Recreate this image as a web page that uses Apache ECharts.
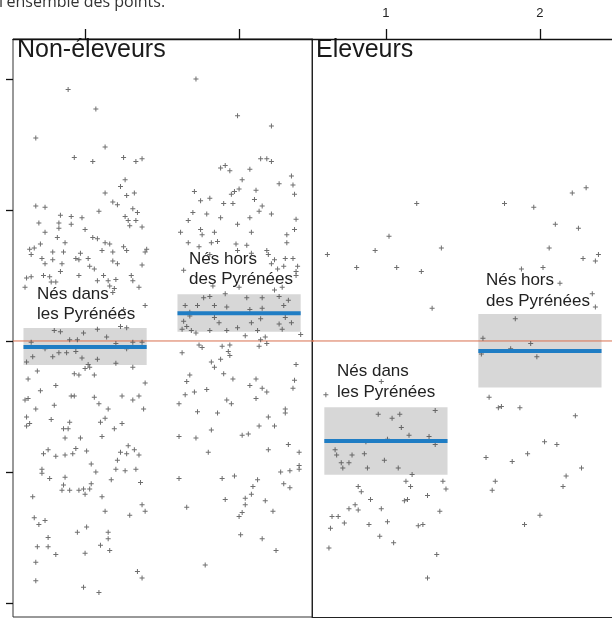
<!DOCTYPE html>
<html><head><meta charset="utf-8">
<script src="https://cdn.jsdelivr.net/npm/echarts@6/dist/echarts.min.js"></script>
<style>html,body{margin:0;padding:0;background:#fff;overflow:hidden}#c{width:612px;height:619px}</style>
</head><body><div id="c"></div>
<script>
// ---------- data ----------
const caption = "l'ensemble des points.";
const panelTitles = ['Non-éleveurs', 'Eleveurs'];
const groupPositions = [1, 2];
const topTickLabels = ['1', '2'];
const yTicks = [-2, -1, 0, 1, 2];
const groupLabelsNon = [['Nés dans', 'les Pyrénées'], ['Nés hors', 'des Pyrénées']];
const groupLabelsEl = [['Nés dans', 'les Pyrénées'], ['Nés hors', 'des Pyrénées']];

const nonMeans = [-0.046, 0.211];
const nonCiLow = [-0.183, 0.071];
const nonCiHigh = [0.099, 0.356];
const elMeans = [-0.763, -0.076];
const elCiLow = [-1.022, -0.356];
const elCiHigh = [-0.505, 0.206];

// Non-éleveurs, nés dans les Pyrénées
const nonInPts = [[0.89,1.92],[1.07,1.77],[0.68,1.55],[1.13,1.48],[0.93,1.40],[1.05,1.37],[1.25,1.40],[1.33,1.37],[1.37,1.39],[1.26,1.23],[1.23,1.18],[1.13,1.13],[1.27,1.11],[1.32,1.13],[1.18,1.06],[1.21,1.04],[0.68,1.03],[0.74,1.02],[1.09,0.99],[1.31,1.01],[1.34,0.98],[0.84,0.96],[0.91,0.95],[0.98,0.94],[1.26,0.95],[1.28,0.92],[1.33,0.92],[0.70,0.90],[0.83,0.90],[0.91,0.89],[1.29,0.88],[1.37,0.87],[1.00,0.85],[0.83,0.86],[0.74,0.83],[1.05,0.79],[1.08,0.78],[0.82,0.79],[0.71,0.74],[0.87,0.75],[1.13,0.75],[1.16,0.74],[1.25,0.72],[0.64,0.70],[0.67,0.71],[0.79,0.68],[0.86,0.68],[0.97,0.67],[1.11,0.69],[1.18,0.68],[1.27,0.69],[1.39,0.68],[1.40,0.70],[0.65,0.66],[0.72,0.63],[0.79,0.62],[0.94,0.63],[0.96,0.62],[1.02,0.63],[1.18,0.61],[1.21,0.59],[0.74,0.59],[0.85,0.59],[1.03,0.57],[1.06,0.55],[1.37,0.58],[0.73,0.50],[0.84,0.53],[0.62,0.48],[0.65,0.49],[0.77,0.49],[0.96,0.50],[1.12,0.50],[1.30,0.50],[0.78,0.45],[0.81,0.45],[1.08,0.46],[1.15,0.46],[1.20,0.47],[1.31,0.46],[0.61,0.41],[1.16,0.42],[1.19,0.40],[1.35,0.41],[1.18,0.37],[1.39,0.27],[1.25,0.24],[1.23,0.11],[1.27,0.10],
[0.80,0.08],[0.84,0.07],[0.99,0.06],[1.08,0.09],[1.14,0.03],[0.65,-0.01],[0.90,0.01],[0.95,0.01],[1.20,-0.02],[1.31,-0.01],[1.37,-0.01],[0.74,-0.06],[0.83,-0.09],[0.88,-0.09],[0.94,-0.08],[1.27,-0.06],[0.66,-0.12],[0.79,-0.12],[0.98,-0.13],[1.08,-0.14],[0.62,-0.16],[1.02,-0.18],[1.20,-0.17],[1.03,-0.20],[1.31,-0.20],[0.69,-0.23],[1.00,-0.21],[0.93,-0.25],[0.96,-0.26],[1.06,-0.26],[0.63,-0.29],[1.39,-0.32],[0.81,-0.34],[0.71,-0.38],[0.91,-0.42],[0.93,-0.42],[1.06,-0.43],[1.24,-0.42],[1.35,-0.42],[0.61,-0.45],[0.63,-0.44],[1.31,-0.45],[0.80,-0.49],[1.09,-0.48],[0.68,-0.52],[1.15,-0.52],[1.38,-0.52],[0.62,-0.58],[0.78,-0.60],[1.13,-0.59],[0.64,-0.63],[0.62,-0.65],[0.90,-0.62],[1.10,-0.62],[1.24,-0.63],[0.86,-0.67],[0.89,-0.67],[1.19,-0.67],[0.87,-0.74],[0.97,-0.74],[1.11,-0.73],[1.28,-0.80],[0.76,-0.83],[1.01,-0.84],[0.94,-0.82],[1.23,-0.85],[1.32,-0.83],[0.73,-0.86],[0.81,-0.88],[0.87,-0.87],[0.92,-0.86],[1.27,-0.86],[1.35,-0.87],[1.21,-0.91],[1.04,-0.94],[0.72,-0.98],[0.72,-1.01],[1.07,-1.00],[1.20,-0.98],[1.26,-0.99],[1.33,-0.98],[0.77,-1.05],[0.87,-1.04],[1.17,-1.06],[1.36,-1.08],[0.86,-1.10],[1.04,-1.09],[0.85,-1.14],[0.90,-1.14],[0.96,-1.14],[0.99,-1.13],[1.03,-1.13],[1.00,-1.17],[0.66,-1.19],[1.11,-1.19],[1.37,-1.25],[1.39,-1.30],[1.13,-1.30],[1.29,-1.33],[0.67,-1.35],[0.74,-1.37],[0.70,-1.40],[1.01,-1.42],[0.95,-1.46],[1.15,-1.46],[0.76,-1.50],[1.15,-1.51],[0.69,-1.57],[0.76,-1.57],[1.10,-1.56],[1.16,-1.60],[0.81,-1.63],[1.00,-1.62],[0.68,-1.69],[1.34,-1.76],[1.37,-1.81],[0.68,-1.83],[0.99,-1.88],[1.09,-1.92]];

// Non-éleveurs, nés hors des Pyrénées
const nonOutPts = [[1.72,2.00],[1.99,1.72],[2.21,1.64],[2.14,1.39],[2.18,1.39],[2.21,1.37],[1.91,1.34],[1.88,1.32],[1.94,1.30],[2.07,1.31],[2.34,1.26],[2.02,1.23],[2.26,1.20],[2.35,1.19],[1.71,1.14],[2.00,1.16],[1.97,1.14],[2.11,1.15],[2.36,1.12],[1.81,1.09],[1.75,1.07],[1.95,1.12],[1.90,1.05],[1.96,1.05],[2.10,1.08],[2.15,1.03],[2.13,0.99],[1.70,0.98],[1.79,0.97],[1.88,0.94],[2.07,0.94],[2.21,0.97],[2.37,0.93],[1.67,0.92],[1.99,0.89],[1.75,0.85],[1.62,0.83],[1.84,0.83],[2.08,0.83],[2.36,0.85],[1.76,0.81],[2.31,0.81],[1.67,0.75],[1.74,0.72],[1.82,0.75],[1.86,0.76],[1.98,0.74],[2.05,0.73],[2.18,0.69],[2.31,0.75],[1.99,0.69],[2.08,0.67],[2.19,0.66],[1.81,0.66],[2.23,0.62],[2.30,0.63],[2.35,0.63],[1.64,0.54],[2.21,0.59],[2.25,0.55],[2.29,0.57],[2.38,0.57],[2.37,0.53],[2.37,0.50],[1.83,0.42],[2.00,0.41],[2.23,0.39],[2.28,0.41],[1.77,0.33],[1.81,0.34],[1.91,0.36],[2.05,0.33],[2.15,0.33],[2.26,0.34],[2.32,0.31],[1.65,0.27],[1.73,0.27],[1.84,0.27],[1.92,0.26],[2.29,0.27],[1.68,0.22],[2.07,0.24],[2.15,0.25],[1.68,0.19],[1.84,0.18],[2.14,0.17],[2.30,0.18],[1.64,0.15],[1.87,0.14],[2.08,0.14],[2.26,0.13],[2.34,0.14],[1.66,0.11],[1.99,0.10],
[1.63,0.09],[1.69,0.08],[1.81,0.08],[1.92,0.08],[2.12,0.08],[2.28,0.09],[1.72,0.06],[2.04,0.04],[2.17,0.03],[2.40,0.05],[2.14,0.01],[1.74,-0.03],[1.76,-0.05],[1.89,-0.04],[1.94,-0.03],[2.13,-0.04],[2.18,-0.02],[1.93,-0.08],[1.94,-0.11],[1.63,-0.09],[1.82,-0.16],[1.88,-0.14],[1.84,-0.20],[2.37,-0.18],[1.68,-0.26],[1.90,-0.25],[1.66,-0.31],[1.96,-0.29],[2.11,-0.29],[2.36,-0.30],[2.07,-0.34],[2.15,-0.36],[2.18,-0.39],[2.35,-0.36],[1.79,-0.37],[1.65,-0.41],[1.71,-0.39],[1.92,-0.45],[1.95,-0.48],[2.11,-0.44],[1.61,-0.48],[2.30,-0.52],[2.30,-0.55],[1.73,-0.54],[1.86,-0.55],[2.19,-0.58],[2.13,-0.65],[2.23,-0.65],[1.82,-0.68],[1.61,-0.73],[1.72,-0.74],[2.02,-0.72],[2.06,-0.71],[1.80,-0.85],[2.19,-0.83],[2.32,-0.79],[2.39,-0.85],[2.39,-0.95],[2.39,-0.98],[2.33,-0.99],[2.27,-1.00],[1.61,-1.05],[1.89,-1.05],[1.97,-1.03],[2.12,-1.06],[2.29,-1.09],[2.33,-1.12],[2.09,-1.11],[2.08,-1.17],[2.17,-1.22],[1.91,-1.21],[2.04,-1.20],[2.04,-1.25],[1.66,-1.27],[2.22,-1.30],[2.02,-1.31],[2.00,-1.34],[2.01,-1.48],[2.15,-1.51],[2.24,-1.60],[1.78,-1.71]];

// Eleveurs, nés dans les Pyrénées
const elInPts = [[1.20,1.05],[1.02,0.80],[0.62,0.66],[0.93,0.69],[1.36,0.71],[0.81,0.56],[1.07,0.56],[1.23,0.53],[1.30,0.25],[0.61,-0.41],[0.97,-0.31],[0.95,-0.56],[1.04,-0.59],[1.09,-0.56],[1.32,-0.53],[1.10,-0.66],[1.15,-0.72],[1.01,-0.75],[1.28,-0.73],[0.87,-0.77],[1.32,-0.79],[0.67,-0.83],[0.68,-0.87],[0.78,-0.87],[0.86,-0.86],[0.99,-0.91],[0.71,-0.93],[0.76,-0.93],[0.72,-0.97],[0.88,-0.97],[1.08,-0.97],[1.17,-1.02],[0.82,-1.11],[0.84,-1.15],[1.13,-1.07],[1.16,-1.11],[1.37,-1.07],[1.39,-1.13],[1.27,-1.18],[0.90,-1.21],[1.12,-1.22],[1.14,-1.21],[0.97,-1.28],[0.76,-1.28],[0.80,-1.25],[0.82,-1.29],[1.35,-1.30],[0.65,-1.34],[0.69,-1.34],[0.73,-1.39],[0.89,-1.40],[1.01,-1.38],[1.21,-1.41],[1.24,-1.40],[0.64,-1.43],[0.96,-1.49],[1.05,-1.54],[0.63,-1.58],[1.33,-1.63],[1.27,-1.81]];

// Eleveurs, nés hors des Pyrénées
const elOutPts = [[2.30,1.17],[2.21,1.13],[1.77,1.05],[1.96,1.02],[2.10,0.89],[2.25,0.86],[2.06,0.71],[2.38,0.66],[2.28,0.63],[2.36,0.61],[1.88,0.55],[2.02,0.56],[2.13,0.44],[2.34,0.36],[2.36,0.26],[1.84,0.17],[1.63,0.02],[1.94,-0.02],[1.81,-0.06],[1.62,-0.10],[1.98,-0.12],[1.67,-0.43],[1.73,-0.51],[1.75,-0.50],[1.87,-0.51],[2.23,-0.57],[1.65,-0.89],[1.82,-0.92],[1.92,-0.86],[2.03,-0.77],[2.11,-0.79],[2.27,-0.97],[2.17,-1.03],[2.15,-1.11],[1.71,-1.07],[1.69,-1.14],[2.00,-1.33],[1.90,-1.40]];

// ---------- chart ----------
const HALF = 0.4;
const FONT = '"Liberation Sans", Arial, sans-serif';
const chart = echarts.init(document.getElementById('c'), null, {renderer: 'canvas'});

function boxSeries(gi, lows, highs) {
  return {
    type: 'custom', xAxisIndex: gi, yAxisIndex: gi, z: 1, silent: true,
    data: groupPositions.map((x, i) => [x, lows[i], highs[i]]),
    renderItem: (p, api) => {
      const x = api.value(0), lo = api.value(1), hi = api.value(2);
      const a = api.coord([x - HALF, hi]), b = api.coord([x + HALF, lo]);
      return {type: 'rect', shape: {x: a[0], y: a[1], width: b[0] - a[0], height: b[1] - a[1]},
              style: {fill: '#d7d7d7'}};
    }
  };
}
function zeroSeries(gi) {
  return {
    type: 'custom', xAxisIndex: gi, yAxisIndex: gi, z: 2, silent: true,
    data: [[1, 0]],
    renderItem: (p, api) => {
      const cs = p.coordSys;
      const y = api.coord([1, api.value(1)])[1];
      return {type: 'line', shape: {x1: cs.x, y1: y, x2: cs.x + cs.width + 2, y2: y},
              style: {stroke: '#d8704f', lineWidth: 1}};
    }
  };
}
function meanSeries(gi, means) {
  return {
    type: 'custom', xAxisIndex: gi, yAxisIndex: gi, z: 4, silent: true,
    data: groupPositions.map((x, i) => [x, means[i]]),
    renderItem: (p, api) => {
      const x = api.value(0), m = api.value(1);
      const a = api.coord([x - HALF, m]), b = api.coord([x + HALF, m]);
      return {type: 'line', shape: {x1: a[0], y1: a[1], x2: b[0], y2: b[1]},
              style: {stroke: '#1f7dc4', lineWidth: 4}};
    }
  };
}
function ptSeries(gi, pts) {
  return {
    type: 'scatter', xAxisIndex: gi, yAxisIndex: gi, z: 3, silent: true,
    symbol: 'path://M2,0h1v2h2v1h-2v2h-1v-2h-2v-1h2z', symbolSize: 5,
    itemStyle: {color: '#4a4a4a'}, data: pts
  };
}

const tickStyle = {color: '#111', width: 1.3};
const yMin = -2.107, yMax = 2.305;

function txt(str, x, y, size, color, family) {
  return {type: 'text', x: x, y: y, silent: true,
    style: {text: str, font: size + 'px ' + (family || FONT), fill: color || '#222',
            verticalAlign: 'middle', align: 'left'}};
}

const graphics = [
  txt(caption, -1, 2.5, 16, '#333', '"Open Sans", sans-serif'),
  txt(panelTitles[0], 17, 50, 25, '#1a1a1a'),
  txt(panelTitles[1], 316, 50, 25, '#1a1a1a'),
  txt(groupLabelsNon[0][0], 37, 294, 17), txt(groupLabelsNon[0][1], 37, 314, 17),
  txt(groupLabelsNon[1][0], 189, 259, 17), txt(groupLabelsNon[1][1], 189, 279, 17),
  txt(groupLabelsEl[0][0], 337, 371, 17), txt(groupLabelsEl[0][1], 337, 392, 17),
  txt(groupLabelsEl[1][0], 486, 280, 17), txt(groupLabelsEl[1][1], 486, 301, 17)
];

const frameLine = {show: true, onZero: false, lineStyle: {color: '#222', width: 1}};

chart.setOption({
  animation: false,
  backgroundColor: '#fff',
  grid: [
    {left: 13, top: 39, width: 299, height: 578, show: true, borderColor: '#333', borderWidth: 1, backgroundColor: 'transparent'},
    {left: 312, top: 39, width: 300, height: 578, show: false}
  ],
  xAxis: [
    {gridIndex: 0, type: 'value', position: 'top', min: 0.532, max: 2.4735,
     axisLine: {show: true, onZero: false, lineStyle: {color: '#111', width: 1.3}},
     axisTick: {show: true, inside: false, length: 10, lineStyle: tickStyle, customValues: groupPositions},
     axisLabel: {show: false}, splitLine: {show: false}},
    {gridIndex: 1, type: 'value', position: 'top', min: 0.52, max: 2.468,
     axisLine: {show: true, onZero: false, lineStyle: {color: '#111', width: 1.3}},
     axisTick: {show: true, inside: false, length: 10, lineStyle: tickStyle, customValues: groupPositions},
     axisLabel: {show: true, customValues: groupPositions, margin: 19, fontSize: 13, color: '#222', fontFamily: FONT,
                 formatter: v => topTickLabels[groupPositions.indexOf(v)]},
     splitLine: {show: false}},
    {gridIndex: 1, type: 'value', position: 'bottom', min: 0.52, max: 2.468,
     axisLine: frameLine, axisTick: {show: false}, axisLabel: {show: false}, splitLine: {show: false}}
  ],
  yAxis: [
    {gridIndex: 0, type: 'value', min: yMin, max: yMax,
     axisLine: {show: false},
     axisTick: {show: true, inside: false, length: 7, lineStyle: tickStyle, customValues: yTicks},
     axisLabel: {show: false}, splitLine: {show: false}},
    {gridIndex: 1, type: 'value', min: yMin, max: yMax,
     axisLine: frameLine, axisTick: {show: false}, axisLabel: {show: false}, splitLine: {show: false}}
  ],
  series: [
    boxSeries(0, nonCiLow, nonCiHigh), boxSeries(1, elCiLow, elCiHigh),
    zeroSeries(0), zeroSeries(1),
    ptSeries(0, nonInPts), ptSeries(0, nonOutPts), ptSeries(1, elInPts), ptSeries(1, elOutPts),
    meanSeries(0, nonMeans), meanSeries(1, elMeans)
  ],
  graphic: graphics
});
</script>
</body></html>
